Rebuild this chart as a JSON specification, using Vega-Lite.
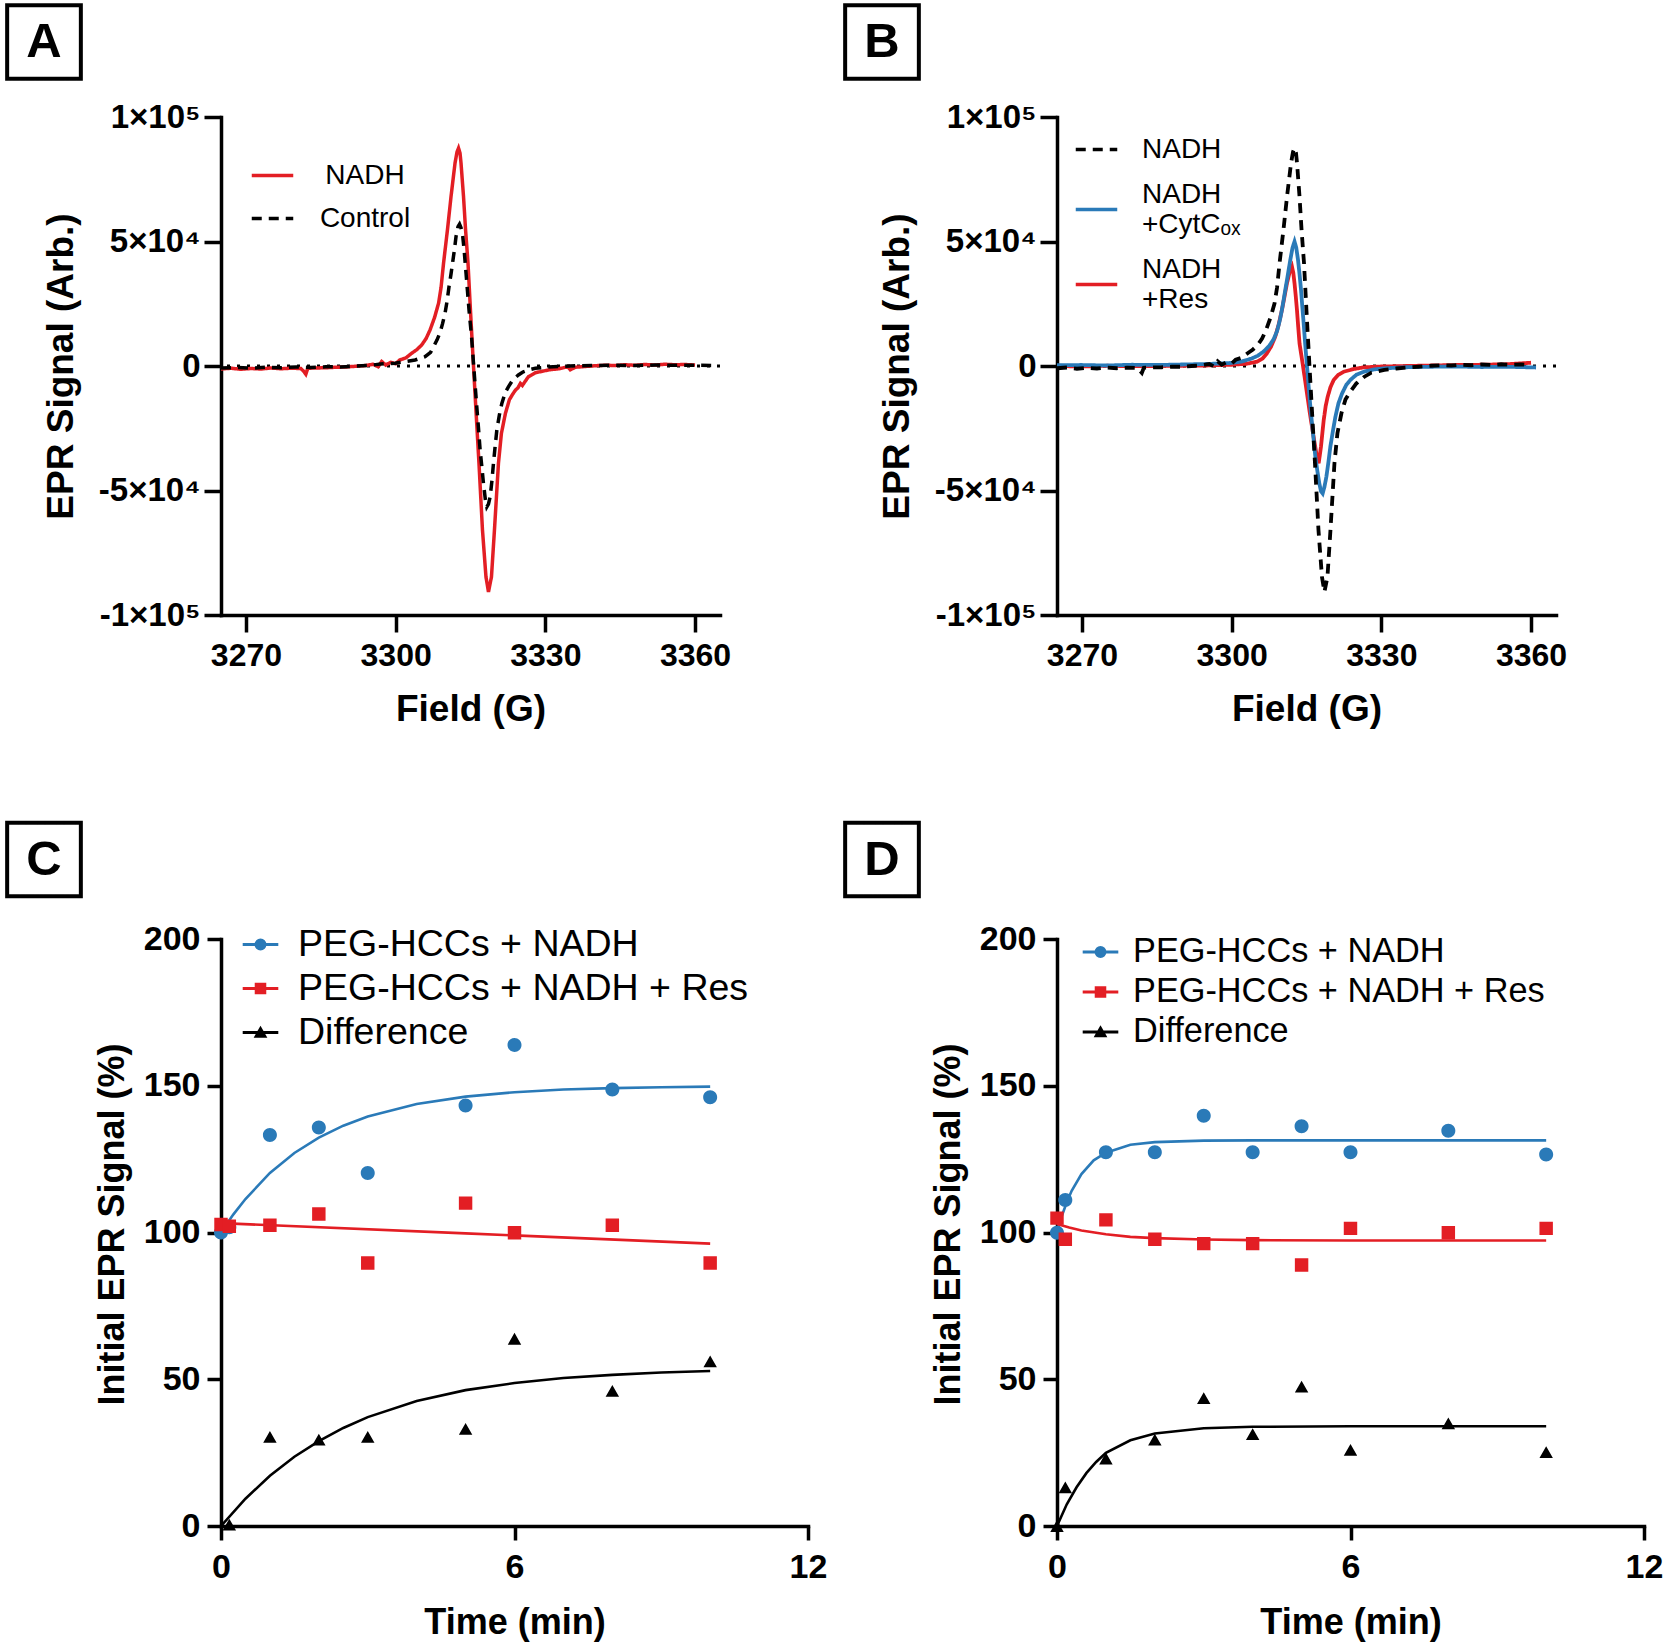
{
  "$schema": "https://vega.github.io/schema/vega-lite/v6.json",
  "background": "white",
  "padding": {"left": 5, "top": 3, "right": 5, "bottom": 5},
  "columns": 2,
  "bounds": "flush",
  "align": "each",
  "spacing": {"row": 324, "column": 249},
  "resolve": {"scale": {"color": "independent", "strokeDash": "independent", "shape": "independent", "stroke": "independent", "opacity": "independent"}},
  "config": {
    "view": {"stroke": null},
    "font": "Liberation Sans",
    "axis": {"domainColor": "black", "tickColor": "black", "labelColor": "black", "titleColor": "black", "grid": false, "labelFont": "Liberation Sans", "titleFont": "Liberation Sans", "labelFontWeight": "bold", "titleFontWeight": "bold", "domainWidth": 3.5, "tickWidth": 3.5, "domainCap": "square", "labelFlush": false, "labelOverlap": false},
    "legend": {"labelColor": "black", "labelFont": "Liberation Sans", "labelLimit": 600}
  },
  "datasets": {
    "epr_a": [
      {"s":"NADH","x":3265,"y":-1200},{"s":"NADH","x":3267,"y":-900},{"s":"NADH","x":3269,"y":-1300},{"s":"NADH","x":3271,"y":-1000},{"s":"NADH","x":3273,"y":-1200},{"s":"NADH","x":3275,"y":-800},{"s":"NADH","x":3277,"y":-1100},{"s":"NADH","x":3279,"y":-900},{"s":"NADH","x":3281,"y":-1000},{"s":"NADH","x":3281.6,"y":-2200},{"s":"NADH","x":3282,"y":-3300},{"s":"NADH","x":3282.4,"y":-900},{"s":"NADH","x":3284,"y":-800},{"s":"NADH","x":3286,"y":-700},{"s":"NADH","x":3288,"y":-500},{"s":"NADH","x":3290,"y":-400},{"s":"NADH","x":3292,"y":-100},{"s":"NADH","x":3294,"y":200},{"s":"NADH","x":3295.5,"y":700},{"s":"NADH","x":3296.5,"y":-300},{"s":"NADH","x":3297.2,"y":1800},{"s":"NADH","x":3298,"y":400},{"s":"NADH","x":3299,"y":1500},{"s":"NADH","x":3300,"y":900},{"s":"NADH","x":3300.8,"y":2400},{"s":"NADH","x":3302,"y":3200},{"s":"NADH","x":3303.2,"y":5100},{"s":"NADH","x":3304.2,"y":6500},{"s":"NADH","x":3305.2,"y":8400},{"s":"NADH","x":3306.1,"y":11000},{"s":"NADH","x":3306.9,"y":14500},{"s":"NADH","x":3307.8,"y":19500},{"s":"NADH","x":3308.6,"y":25200},{"s":"NADH","x":3309.1,"y":31500},{"s":"NADH","x":3309.6,"y":41300},{"s":"NADH","x":3310.4,"y":55000},{"s":"NADH","x":3311.1,"y":68100},{"s":"NADH","x":3311.9,"y":81500},{"s":"NADH","x":3312.3,"y":86000},{"s":"NADH","x":3312.6,"y":87500},{"s":"NADH","x":3312.9,"y":85500},{"s":"NADH","x":3313.1,"y":81500},{"s":"NADH","x":3313.6,"y":68100},{"s":"NADH","x":3314.0,"y":55000},{"s":"NADH","x":3314.5,"y":41300},{"s":"NADH","x":3315.0,"y":22000},{"s":"NADH","x":3315.6,"y":0},{"s":"NADH","x":3316.1,"y":-18000},{"s":"NADH","x":3316.7,"y":-39100},{"s":"NADH","x":3317.4,"y":-65900},{"s":"NADH","x":3318.1,"y":-84700},{"s":"NADH","x":3318.6,"y":-90700},{"s":"NADH","x":3319.2,"y":-84700},{"s":"NADH","x":3319.8,"y":-65900},{"s":"NADH","x":3320.6,"y":-39100},{"s":"NADH","x":3321.2,"y":-27000},{"s":"NADH","x":3322.0,"y":-19000},{"s":"NADH","x":3322.8,"y":-13500},{"s":"NADH","x":3323.4,"y":-11500},{"s":"NADH","x":3324.0,"y":-9700},{"s":"NADH","x":3324.5,"y":-8800},{"s":"NADH","x":3325.0,"y":-7000},{"s":"NADH","x":3325.4,"y":-7800},{"s":"NADH","x":3326.6,"y":-4300},{"s":"NADH","x":3328,"y":-2700},{"s":"NADH","x":3330.6,"y":-1600},{"s":"NADH","x":3333,"y":-1000},{"s":"NADH","x":3334.5,"y":-300},{"s":"NADH","x":3335,"y":-1500},{"s":"NADH","x":3336,"y":-500},{"s":"NADH","x":3338,"y":-200},{"s":"NADH","x":3340,"y":100},{"s":"NADH","x":3342,"y":300},{"s":"NADH","x":3344,"y":200},{"s":"NADH","x":3346,"y":500},{"s":"NADH","x":3348,"y":300},{"s":"NADH","x":3350,"y":600},{"s":"NADH","x":3352,"y":400},{"s":"NADH","x":3354,"y":700},{"s":"NADH","x":3356,"y":500},{"s":"NADH","x":3358,"y":600},{"s":"NADH","x":3360,"y":400},
      {"s":"Control","x":3265,"y":-800},{"s":"Control","x":3268,"y":-600},{"s":"Control","x":3271,"y":-900},{"s":"Control","x":3274,"y":-500},{"s":"Control","x":3277,"y":-700},{"s":"Control","x":3280,"y":-400},{"s":"Control","x":3283,"y":-600},{"s":"Control","x":3286,"y":-300},{"s":"Control","x":3289,"y":-400},{"s":"Control","x":3292,"y":0},{"s":"Control","x":3295,"y":300},{"s":"Control","x":3297,"y":800},{"s":"Control","x":3299.9,"y":1100},{"s":"Control","x":3302,"y":1800},{"s":"Control","x":3303.9,"y":2400},{"s":"Control","x":3305.9,"y":3750},{"s":"Control","x":3307,"y":5500},{"s":"Control","x":3307.6,"y":7800},{"s":"Control","x":3308.3,"y":10500},{"s":"Control","x":3308.9,"y":13400},{"s":"Control","x":3309.4,"y":17000},{"s":"Control","x":3309.9,"y":21200},{"s":"Control","x":3310.3,"y":26000},{"s":"Control","x":3310.7,"y":31900},{"s":"Control","x":3311.1,"y":37000},{"s":"Control","x":3311.4,"y":41300},{"s":"Control","x":3311.8,"y":47000},{"s":"Control","x":3312.1,"y":52000},{"s":"Control","x":3312.5,"y":56000},{"s":"Control","x":3312.8,"y":57000},{"s":"Control","x":3313.1,"y":55500},{"s":"Control","x":3313.45,"y":52000},{"s":"Control","x":3313.75,"y":46000},{"s":"Control","x":3314.05,"y":38600},{"s":"Control","x":3314.4,"y":30000},{"s":"Control","x":3314.7,"y":22500},{"s":"Control","x":3315.2,"y":12000},{"s":"Control","x":3315.6,"y":1100},{"s":"Control","x":3315.9,"y":-7000},{"s":"Control","x":3316.26,"y":-16400},{"s":"Control","x":3316.6,"y":-25000},{"s":"Control","x":3316.93,"y":-33800},{"s":"Control","x":3317.3,"y":-41000},{"s":"Control","x":3317.6,"y":-47200},{"s":"Control","x":3318.0,"y":-54000},{"s":"Control","x":3318.27,"y":-56600},{"s":"Control","x":3318.6,"y":-55500},{"s":"Control","x":3318.94,"y":-52500},{"s":"Control","x":3319.3,"y":-46000},{"s":"Control","x":3319.6,"y":-39100},{"s":"Control","x":3319.95,"y":-32000},{"s":"Control","x":3320.28,"y":-25700},{"s":"Control","x":3320.8,"y":-19500},{"s":"Control","x":3321.28,"y":-15000},{"s":"Control","x":3322,"y":-10500},{"s":"Control","x":3322.62,"y":-8300},{"s":"Control","x":3323.5,"y":-5500},{"s":"Control","x":3324.6,"y":-3600},{"s":"Control","x":3325.5,"y":-2400},{"s":"Control","x":3326.6,"y":-1600},{"s":"Control","x":3328,"y":-900},{"s":"Control","x":3330,"y":-500},{"s":"Control","x":3333,"y":-200},{"s":"Control","x":3336,"y":100},{"s":"Control","x":3340,"y":200},{"s":"Control","x":3344,"y":300},{"s":"Control","x":3348,"y":200},{"s":"Control","x":3352,"y":400},{"s":"Control","x":3356,"y":300},{"s":"Control","x":3360,"y":300},{"s":"Control","x":3364,"y":200}
    ],
    "epr_b": [
      {"s":"NADH+Res","x":3265,"y":0},{"s":"NADH+Res","x":3270,"y":-200},{"s":"NADH+Res","x":3275,"y":100},{"s":"NADH+Res","x":3280,"y":-100},{"s":"NADH+Res","x":3285,"y":0},{"s":"NADH+Res","x":3290,"y":100},{"s":"NADH+Res","x":3295,"y":200},{"s":"NADH+Res","x":3300,"y":500},{"s":"NADH+Res","x":3303,"y":900},{"s":"NADH+Res","x":3305.06,"y":1700},{"s":"NADH+Res","x":3306.2,"y":3000},{"s":"NADH+Res","x":3307.07,"y":5100},{"s":"NADH+Res","x":3307.9,"y":7800},{"s":"NADH+Res","x":3308.74,"y":11800},{"s":"NADH+Res","x":3309.4,"y":16500},{"s":"NADH+Res","x":3310.08,"y":22500},{"s":"NADH+Res","x":3310.6,"y":28000},{"s":"NADH+Res","x":3311.08,"y":33200},{"s":"NADH+Res","x":3311.6,"y":37500},{"s":"NADH+Res","x":3312.09,"y":39900},{"s":"NADH+Res","x":3312.35,"y":37500},{"s":"NADH+Res","x":3312.6,"y":33200},{"s":"NADH+Res","x":3312.85,"y":28000},{"s":"NADH+Res","x":3313.09,"y":22500},{"s":"NADH+Res","x":3313.35,"y":15500},{"s":"NADH+Res","x":3313.6,"y":9100},{"s":"NADH+Res","x":3314.3,"y":0},{"s":"NADH+Res","x":3314.7,"y":-5500},{"s":"NADH+Res","x":3315.1,"y":-11000},{"s":"NADH+Res","x":3315.6,"y":-18000},{"s":"NADH+Res","x":3316.1,"y":-24400},{"s":"NADH+Res","x":3316.55,"y":-30000},{"s":"NADH+Res","x":3316.97,"y":-35100},{"s":"NADH+Res","x":3317.44,"y":-39100},{"s":"NADH+Res","x":3317.9,"y":-32400},{"s":"NADH+Res","x":3318.45,"y":-21700},{"s":"NADH+Res","x":3318.85,"y":-16000},{"s":"NADH+Res","x":3319.25,"y":-12300},{"s":"NADH+Res","x":3319.8,"y":-8500},{"s":"NADH+Res","x":3320.45,"y":-5600},{"s":"NADH+Res","x":3321.4,"y":-3500},{"s":"NADH+Res","x":3322.46,"y":-2300},{"s":"NADH+Res","x":3324.5,"y":-1200},{"s":"NADH+Res","x":3326.48,"y":-540},{"s":"NADH+Res","x":3330,"y":-200},{"s":"NADH+Res","x":3335,"y":0},{"s":"NADH+Res","x":3340,"y":200},{"s":"NADH+Res","x":3345,"y":400},{"s":"NADH+Res","x":3350,"y":500},{"s":"NADH+Res","x":3355,"y":700},{"s":"NADH+Res","x":3360,"y":1300},
      {"s":"NADH+CytCox","x":3265,"y":300},{"s":"NADH+CytCox","x":3270,"y":400},{"s":"NADH+CytCox","x":3275,"y":200},{"s":"NADH+CytCox","x":3280,"y":500},{"s":"NADH+CytCox","x":3285,"y":400},{"s":"NADH+CytCox","x":3290,"y":600},{"s":"NADH+CytCox","x":3295,"y":800},{"s":"NADH+CytCox","x":3299.7,"y":1200},{"s":"NADH+CytCox","x":3302,"y":1800},{"s":"NADH+CytCox","x":3304,"y":3000},{"s":"NADH+CytCox","x":3305.3,"y":4200},{"s":"NADH+CytCox","x":3306.4,"y":5800},{"s":"NADH+CytCox","x":3307.5,"y":8000},{"s":"NADH+CytCox","x":3308.4,"y":10700},{"s":"NADH+CytCox","x":3309.1,"y":14000},{"s":"NADH+CytCox","x":3309.7,"y":18700},{"s":"NADH+CytCox","x":3310.2,"y":24000},{"s":"NADH+CytCox","x":3310.75,"y":30600},{"s":"NADH+CytCox","x":3311.25,"y":36500},{"s":"NADH+CytCox","x":3311.75,"y":42600},{"s":"NADH+CytCox","x":3312.2,"y":47500},{"s":"NADH+CytCox","x":3312.6,"y":50000},{"s":"NADH+CytCox","x":3312.95,"y":47500},{"s":"NADH+CytCox","x":3313.3,"y":42600},{"s":"NADH+CytCox","x":3313.6,"y":37000},{"s":"NADH+CytCox","x":3313.9,"y":30600},{"s":"NADH+CytCox","x":3314.15,"y":24000},{"s":"NADH+CytCox","x":3314.43,"y":17200},{"s":"NADH+CytCox","x":3314.75,"y":8500},{"s":"NADH+CytCox","x":3315.1,"y":0},{"s":"NADH+CytCox","x":3315.5,"y":-10000},{"s":"NADH+CytCox","x":3315.9,"y":-19000},{"s":"NADH+CytCox","x":3316.35,"y":-28000},{"s":"NADH+CytCox","x":3316.77,"y":-36400},{"s":"NADH+CytCox","x":3317.2,"y":-42500},{"s":"NADH+CytCox","x":3317.57,"y":-47200},{"s":"NADH+CytCox","x":3317.9,"y":-50300},{"s":"NADH+CytCox","x":3318.24,"y":-51200},{"s":"NADH+CytCox","x":3318.6,"y":-48500},{"s":"NADH+CytCox","x":3318.98,"y":-44500},{"s":"NADH+CytCox","x":3319.4,"y":-38500},{"s":"NADH+CytCox","x":3319.78,"y":-32400},{"s":"NADH+CytCox","x":3320.3,"y":-26000},{"s":"NADH+CytCox","x":3320.79,"y":-20400},{"s":"NADH+CytCox","x":3321.4,"y":-15000},{"s":"NADH+CytCox","x":3322.13,"y":-11000},{"s":"NADH+CytCox","x":3323,"y":-7500},{"s":"NADH+CytCox","x":3323.8,"y":-5600},{"s":"NADH+CytCox","x":3325,"y":-3500},{"s":"NADH+CytCox","x":3326.48,"y":-2300},{"s":"NADH+CytCox","x":3328.5,"y":-1400},{"s":"NADH+CytCox","x":3330.5,"y":-940},{"s":"NADH+CytCox","x":3335,"y":-500},{"s":"NADH+CytCox","x":3340,"y":-300},{"s":"NADH+CytCox","x":3345,"y":-200},{"s":"NADH+CytCox","x":3350,"y":-400},{"s":"NADH+CytCox","x":3355,"y":-300},{"s":"NADH+CytCox","x":3361,"y":-600},
      {"s":"NADH","x":3265,"y":-900},{"s":"NADH","x":3267,"y":-600},{"s":"NADH","x":3269,"y":-1100},{"s":"NADH","x":3271,"y":-700},{"s":"NADH","x":3273,"y":-1000},{"s":"NADH","x":3275,"y":-600},{"s":"NADH","x":3277,"y":-900},{"s":"NADH","x":3279,"y":-700},{"s":"NADH","x":3281,"y":-800},{"s":"NADH","x":3281.6,"y":-1900},{"s":"NADH","x":3282,"y":-2800},{"s":"NADH","x":3282.4,"y":-700},{"s":"NADH","x":3284,"y":-600},{"s":"NADH","x":3286,"y":-500},{"s":"NADH","x":3288,"y":-300},{"s":"NADH","x":3290,"y":-300},{"s":"NADH","x":3292,"y":0},{"s":"NADH","x":3294,"y":300},{"s":"NADH","x":3295.5,"y":800},{"s":"NADH","x":3296.5,"y":-200},{"s":"NADH","x":3297.2,"y":1900},{"s":"NADH","x":3298,"y":500},{"s":"NADH","x":3299,"y":1600},{"s":"NADH","x":3300,"y":1000},{"s":"NADH","x":3300.8,"y":2500},{"s":"NADH","x":3302,"y":3300},{"s":"NADH","x":3303.2,"y":5100},{"s":"NADH","x":3304.2,"y":6500},{"s":"NADH","x":3305.2,"y":8400},{"s":"NADH","x":3306.1,"y":11000},{"s":"NADH","x":3306.9,"y":14500},{"s":"NADH","x":3307.8,"y":19500},{"s":"NADH","x":3308.6,"y":25200},{"s":"NADH","x":3309.1,"y":31500},{"s":"NADH","x":3309.6,"y":41300},{"s":"NADH","x":3310.4,"y":55000},{"s":"NADH","x":3311.1,"y":68100},{"s":"NADH","x":3311.9,"y":81500},{"s":"NADH","x":3312.3,"y":86000},{"s":"NADH","x":3312.6,"y":87500},{"s":"NADH","x":3312.9,"y":85500},{"s":"NADH","x":3313.1,"y":81500},{"s":"NADH","x":3313.6,"y":68100},{"s":"NADH","x":3314.0,"y":55000},{"s":"NADH","x":3314.5,"y":41300},{"s":"NADH","x":3315.0,"y":22000},{"s":"NADH","x":3315.6,"y":0},{"s":"NADH","x":3316.1,"y":-18000},{"s":"NADH","x":3316.7,"y":-39100},{"s":"NADH","x":3317.4,"y":-65900},{"s":"NADH","x":3318.1,"y":-84700},{"s":"NADH","x":3318.6,"y":-90700},{"s":"NADH","x":3319.2,"y":-84700},{"s":"NADH","x":3319.8,"y":-65900},{"s":"NADH","x":3320.6,"y":-39100},{"s":"NADH","x":3321.2,"y":-27000},{"s":"NADH","x":3322.0,"y":-19000},{"s":"NADH","x":3322.8,"y":-13500},{"s":"NADH","x":3323.4,"y":-11500},{"s":"NADH","x":3324.0,"y":-9700},{"s":"NADH","x":3325.0,"y":-7000},{"s":"NADH","x":3326.6,"y":-4300},{"s":"NADH","x":3328,"y":-2700},{"s":"NADH","x":3330.6,"y":-1600},{"s":"NADH","x":3333,"y":-1000},{"s":"NADH","x":3336,"y":-500},{"s":"NADH","x":3338,"y":-200},{"s":"NADH","x":3340,"y":100},{"s":"NADH","x":3342,"y":300},{"s":"NADH","x":3344,"y":200},{"s":"NADH","x":3346,"y":500},{"s":"NADH","x":3348,"y":300},{"s":"NADH","x":3350,"y":600},{"s":"NADH","x":3352,"y":400},{"s":"NADH","x":3354,"y":700},{"s":"NADH","x":3356,"y":500},{"s":"NADH","x":3358,"y":600},{"s":"NADH","x":3360,"y":400}
    ],
    "pts_c": [
      {"s":"PEG-HCCs + NADH","x":0,"y":100},{"s":"PEG-HCCs + NADH","x":0.17,"y":101.8},{"s":"PEG-HCCs + NADH","x":1,"y":133.2},{"s":"PEG-HCCs + NADH","x":2,"y":135.8},{"s":"PEG-HCCs + NADH","x":3,"y":120.3},{"s":"PEG-HCCs + NADH","x":5,"y":143.3},{"s":"PEG-HCCs + NADH","x":6,"y":163.9},{"s":"PEG-HCCs + NADH","x":8,"y":148.7},{"s":"PEG-HCCs + NADH","x":10,"y":146.1},
      {"s":"PEG-HCCs + NADH + Res","x":0,"y":102.7},{"s":"PEG-HCCs + NADH + Res","x":0.17,"y":102.1},{"s":"PEG-HCCs + NADH + Res","x":1,"y":102.5},{"s":"PEG-HCCs + NADH + Res","x":2,"y":106.3},{"s":"PEG-HCCs + NADH + Res","x":3,"y":89.6},{"s":"PEG-HCCs + NADH + Res","x":5,"y":110},{"s":"PEG-HCCs + NADH + Res","x":6,"y":99.9},{"s":"PEG-HCCs + NADH + Res","x":8,"y":102.5},{"s":"PEG-HCCs + NADH + Res","x":10,"y":89.6},
      {"s":"Difference","x":0.17,"y":0.5},{"s":"Difference","x":1,"y":30.4},{"s":"Difference","x":2,"y":29.4},{"s":"Difference","x":3,"y":30.4},{"s":"Difference","x":5,"y":33.1},{"s":"Difference","x":6,"y":63.8},{"s":"Difference","x":8,"y":46},{"s":"Difference","x":10,"y":56.1}
    ],
    "fit_c": [
      {"s":"PEG-HCCs + NADH","x":0,"y":100},{"s":"PEG-HCCs + NADH","x":0.25,"y":106.1},{"s":"PEG-HCCs + NADH","x":0.5,"y":111.4},{"s":"PEG-HCCs + NADH","x":1,"y":120.3},{"s":"PEG-HCCs + NADH","x":1.5,"y":127.1},{"s":"PEG-HCCs + NADH","x":2,"y":132.3},{"s":"PEG-HCCs + NADH","x":2.5,"y":136.4},{"s":"PEG-HCCs + NADH","x":3,"y":139.5},{"s":"PEG-HCCs + NADH","x":4,"y":143.8},{"s":"PEG-HCCs + NADH","x":5,"y":146.3},{"s":"PEG-HCCs + NADH","x":6,"y":147.8},{"s":"PEG-HCCs + NADH","x":7,"y":148.7},{"s":"PEG-HCCs + NADH","x":8,"y":149.2},{"s":"PEG-HCCs + NADH","x":9,"y":149.5},{"s":"PEG-HCCs + NADH","x":10,"y":149.7},
      {"s":"PEG-HCCs + NADH + Res","x":0,"y":103.2},{"s":"PEG-HCCs + NADH + Res","x":5,"y":99.7},{"s":"PEG-HCCs + NADH + Res","x":10,"y":96.2},
      {"s":"Difference","x":0,"y":0},{"s":"Difference","x":0.5,"y":9.3},{"s":"Difference","x":1,"y":17.1},{"s":"Difference","x":1.5,"y":23.6},{"s":"Difference","x":2,"y":28.9},{"s":"Difference","x":2.5,"y":33.4},{"s":"Difference","x":3,"y":37.1},{"s":"Difference","x":4,"y":42.6},{"s":"Difference","x":5,"y":46.3},{"s":"Difference","x":6,"y":48.7},{"s":"Difference","x":7,"y":50.4},{"s":"Difference","x":8,"y":51.5},{"s":"Difference","x":9,"y":52.3},{"s":"Difference","x":10,"y":52.8}
    ],
    "pts_d": [
      {"s":"PEG-HCCs + NADH","x":0,"y":99.9},{"s":"PEG-HCCs + NADH","x":0.17,"y":111.1},{"s":"PEG-HCCs + NADH","x":1,"y":127.3},{"s":"PEG-HCCs + NADH","x":2,"y":127.3},{"s":"PEG-HCCs + NADH","x":3,"y":139.8},{"s":"PEG-HCCs + NADH","x":4,"y":127.3},{"s":"PEG-HCCs + NADH","x":5,"y":136.2},{"s":"PEG-HCCs + NADH","x":6,"y":127.3},{"s":"PEG-HCCs + NADH","x":8,"y":134.7},{"s":"PEG-HCCs + NADH","x":10,"y":126.6},
      {"s":"PEG-HCCs + NADH + Res","x":0,"y":104.9},{"s":"PEG-HCCs + NADH + Res","x":0.17,"y":97.7},{"s":"PEG-HCCs + NADH + Res","x":1,"y":104.3},{"s":"PEG-HCCs + NADH + Res","x":2,"y":97.7},{"s":"PEG-HCCs + NADH + Res","x":3,"y":96.2},{"s":"PEG-HCCs + NADH + Res","x":4,"y":96.2},{"s":"PEG-HCCs + NADH + Res","x":5,"y":88.9},{"s":"PEG-HCCs + NADH + Res","x":6,"y":101.4},{"s":"PEG-HCCs + NADH + Res","x":8,"y":99.9},{"s":"PEG-HCCs + NADH + Res","x":10,"y":101.4},
      {"s":"Difference","x":0,"y":0},{"s":"Difference","x":0.17,"y":13.2},{"s":"Difference","x":1,"y":23},{"s":"Difference","x":2,"y":29.4},{"s":"Difference","x":3,"y":43.6},{"s":"Difference","x":4,"y":31.3},{"s":"Difference","x":5,"y":47.5},{"s":"Difference","x":6,"y":25.9},{"s":"Difference","x":8,"y":35},{"s":"Difference","x":10,"y":25.2}
    ],
    "fit_d": [
      {"s":"PEG-HCCs + NADH","x":0,"y":100},{"s":"PEG-HCCs + NADH","x":0.1,"y":105.7},{"s":"PEG-HCCs + NADH","x":0.2,"y":110.3},{"s":"PEG-HCCs + NADH","x":0.3,"y":114.2},{"s":"PEG-HCCs + NADH","x":0.5,"y":119.9},{"s":"PEG-HCCs + NADH","x":0.75,"y":124.6},{"s":"PEG-HCCs + NADH","x":1,"y":127.2},{"s":"PEG-HCCs + NADH","x":1.5,"y":129.9},{"s":"PEG-HCCs + NADH","x":2,"y":130.8},{"s":"PEG-HCCs + NADH","x":3,"y":131.3},{"s":"PEG-HCCs + NADH","x":4,"y":131.4},{"s":"PEG-HCCs + NADH","x":6,"y":131.4},{"s":"PEG-HCCs + NADH","x":8,"y":131.4},{"s":"PEG-HCCs + NADH","x":10,"y":131.4},
      {"s":"PEG-HCCs + NADH + Res","x":0,"y":102.9},{"s":"PEG-HCCs + NADH + Res","x":0.25,"y":101.7},{"s":"PEG-HCCs + NADH + Res","x":0.5,"y":100.7},{"s":"PEG-HCCs + NADH + Res","x":1,"y":99.4},{"s":"PEG-HCCs + NADH + Res","x":1.5,"y":98.5},{"s":"PEG-HCCs + NADH + Res","x":2,"y":98.1},{"s":"PEG-HCCs + NADH + Res","x":3,"y":97.6},{"s":"PEG-HCCs + NADH + Res","x":4,"y":97.4},{"s":"PEG-HCCs + NADH + Res","x":6,"y":97.3},{"s":"PEG-HCCs + NADH + Res","x":10,"y":97.3},
      {"s":"Difference","x":0,"y":0},{"s":"Difference","x":0.2,"y":7.4},{"s":"Difference","x":0.4,"y":13.2},{"s":"Difference","x":0.6,"y":18},{"s":"Difference","x":0.8,"y":21.8},{"s":"Difference","x":1,"y":24.9},{"s":"Difference","x":1.5,"y":29.2},{"s":"Difference","x":2,"y":31.5},{"s":"Difference","x":3,"y":33.3},{"s":"Difference","x":4,"y":33.8},{"s":"Difference","x":6,"y":34},{"s":"Difference","x":10,"y":34}
    ]
  },
  "concat": [
    {
      "width": 499, "height": 498,
      "layer": [
        {
          "data": {"values": [{}]},
          "mark": {"type": "rule", "strokeWidth": 3, "color": "black", "strokeDash": [3, 7]},
          "encoding": {
            "y": {"datum": 0, "type": "quantitative"},
            "opacity": {"datum": "A", "type": "nominal", "scale": {"range": [1, 1]},
              "legend": {"orient": "none", "legendX": -216, "legendY": -114, "title": null, "padding": 0, "symbolType": "square", "symbolSize": 5432, "symbolStrokeWidth": 4, "symbolStrokeColor": "black", "symbolFillColor": "transparent", "symbolDash": [1, 0], "labelFontSize": 49, "labelFontWeight": "bold", "labelAlign": "center", "labelBaseline": "middle", "labelOffset": -39}}
          }
        },
        {
          "data": {"name": "epr_a"},
          "mark": {"type": "line", "strokeWidth": 3.5},
          "encoding": {
            "x": {"field": "x", "type": "quantitative", "scale": {"domain": [3265, 3365], "nice": false, "zero": false},
              "axis": {"values": [3270, 3300, 3330, 3360], "format": "d", "title": "Field (G)", "labelFontSize": 32, "titleFontSize": 37, "tickSize": 17, "labelPadding": 8, "titlePadding": 20}},
            "y": {"field": "y", "type": "quantitative", "scale": {"domain": [-100000, 100000], "nice": false, "zero": false},
              "axis": {"values": [-100000, -50000, 0, 50000, 100000], "labelExpr": "datum.value == 100000 ? '1×10⁵' : datum.value == 50000 ? '5×10⁴' : datum.value == 0 ? '0' : datum.value == -50000 ? '-5×10⁴' : '-1×10⁵'", "title": "EPR Signal (Arb.)", "labelFontSize": 33, "titleFontSize": 37, "tickSize": 17, "labelPadding": 4, "titlePadding": 18}},
            "color": {"field": "s", "type": "nominal", "scale": {"domain": ["NADH", "Control"], "range": ["#e31e24", "#000000"]},
              "legend": {"orient": "none", "legendX": 29, "legendY": 36, "title": null, "padding": 0, "symbolType": "stroke", "symbolSize": 1722, "symbolStrokeWidth": 3.5, "labelFontSize": 28, "labelAlign": "center", "labelOffset": 70, "rowPadding": 6}},
            "strokeDash": {"field": "s", "type": "nominal", "scale": {"domain": ["NADH", "Control"], "range": [[1, 0], [10, 7]]},
              "legend": {"orient": "none", "legendX": 29, "legendY": 36, "title": null, "padding": 0, "symbolType": "stroke", "symbolSize": 1722, "symbolStrokeWidth": 3.5, "labelFontSize": 28, "labelAlign": "center", "labelOffset": 70, "rowPadding": 6}}
          }
        }
      ]
    },
    {
      "width": 499, "height": 498,
      "layer": [
        {
          "data": {"values": [{}]},
          "mark": {"type": "rule", "strokeWidth": 3, "color": "black", "strokeDash": [3, 7]},
          "encoding": {
            "y": {"datum": 0, "type": "quantitative"},
            "opacity": {"datum": "B", "type": "nominal", "scale": {"range": [1, 1]},
              "legend": {"orient": "none", "legendX": -214, "legendY": -114, "title": null, "padding": 0, "symbolType": "square", "symbolSize": 5432, "symbolStrokeWidth": 4, "symbolStrokeColor": "black", "symbolFillColor": "transparent", "symbolDash": [1, 0], "labelFontSize": 49, "labelFontWeight": "bold", "labelAlign": "center", "labelBaseline": "middle", "labelOffset": -39}}
          }
        },
        {
          "data": {"name": "epr_b"},
          "mark": {"type": "line", "strokeWidth": 3.8},
          "encoding": {
            "x": {"field": "x", "type": "quantitative", "scale": {"domain": [3265, 3365], "nice": false, "zero": false},
              "axis": {"values": [3270, 3300, 3330, 3360], "format": "d", "title": "Field (G)", "labelFontSize": 32, "titleFontSize": 37, "tickSize": 17, "labelPadding": 8, "titlePadding": 20}},
            "y": {"field": "y", "type": "quantitative", "scale": {"domain": [-100000, 100000], "nice": false, "zero": false},
              "axis": {"values": [-100000, -50000, 0, 50000, 100000], "labelExpr": "datum.value == 100000 ? '1×10⁵' : datum.value == 50000 ? '5×10⁴' : datum.value == 0 ? '0' : datum.value == -50000 ? '-5×10⁴' : '-1×10⁵'", "title": "EPR Signal (Arb.)", "labelFontSize": 33, "titleFontSize": 37, "tickSize": 17, "labelPadding": 4, "titlePadding": 18}},
            "color": {"field": "s", "type": "nominal", "scale": {"domain": ["NADH", "NADH+CytCox", "NADH+Res"], "range": ["#000000", "#2a7ab8", "#e31e24"]},
              "legend": {"orient": "none", "legendX": 17, "legendY": 10, "title": null, "padding": 0, "symbolType": "stroke", "symbolSize": 1722, "symbolStrokeWidth": 3.5, "labelFontSize": 28, "labelOffset": 23, "rowPadding": 16,
                "labelBaseline": {"expr": "datum.value == 'NADH' ? 'middle' : 'line-bottom'"},
                "labelExpr": "datum.value == 'NADH' ? 'NADH' : datum.value == 'NADH+CytCox' ? ['NADH', '+CytCₒₓ'] : ['NADH', '+Res']"}},
            "strokeDash": {"field": "s", "type": "nominal", "scale": {"domain": ["NADH", "NADH+CytCox", "NADH+Res"], "range": [[10, 7], [1, 0], [1, 0]]},
              "legend": {"orient": "none", "legendX": 17, "legendY": 10, "title": null, "padding": 0, "symbolType": "stroke", "symbolSize": 1722, "symbolStrokeWidth": 3.5, "labelFontSize": 28, "labelOffset": 23, "rowPadding": 16,
                "labelBaseline": {"expr": "datum.value == 'NADH' ? 'middle' : 'line-bottom'"},
                "labelExpr": "datum.value == 'NADH' ? 'NADH' : datum.value == 'NADH+CytCox' ? ['NADH', '+CytCₒₓ'] : ['NADH', '+Res']"}}
          }
        }
      ]
    },
    {
      "width": 587, "height": 587,
      "layer": [
        {
          "data": {"name": "fit_c"},
          "mark": {"type": "line", "strokeWidth": 2.6},
          "encoding": {
            "x": {"field": "x", "type": "quantitative", "scale": {"domain": [0, 12], "nice": false},
              "axis": {"values": [0, 6, 12], "title": "Time (min)", "labelFontSize": 34, "titleFontSize": 36, "tickSize": 14, "labelPadding": 10, "titlePadding": 21}},
            "y": {"field": "y", "type": "quantitative", "scale": {"domain": [0, 200], "nice": false},
              "axis": {"values": [0, 50, 100, 150, 200], "title": "Initial EPR Signal (%)", "labelFontSize": 34, "titleFontSize": 36, "tickSize": 14, "labelPadding": 7, "titlePadding": 12, "titleY": 285}},
            "color": {"field": "s", "type": "nominal", "scale": {"domain": ["PEG-HCCs + NADH", "PEG-HCCs + NADH + Res", "Difference"], "range": ["#2a7ab8", "#e31e24", "#000000"]},
              "legend": {"orient": "none", "legendX": 20, "legendY": -14, "title": null, "padding": 0, "labelFontSize": 37.5, "labelOffset": 18, "rowPadding": 6, "symbolSize": 1267, "symbolStrokeWidth": 3, "symbolOpacity": 1}},
            "opacity": {"datum": "C", "type": "nominal", "scale": {"range": [1, 1]},
              "legend": {"orient": "none", "legendX": -216, "legendY": -118.5, "title": null, "padding": 0, "symbolType": "square", "symbolSize": 5432, "symbolStrokeWidth": 4, "symbolStrokeColor": "black", "symbolFillColor": "transparent", "symbolDash": [1, 0], "labelFontSize": 49, "labelFontWeight": "bold", "labelAlign": "center", "labelBaseline": "middle", "labelOffset": -39}}
          }
        },
        {
          "data": {"name": "pts_c"},
          "mark": {"type": "point", "filled": true, "size": 3136, "opacity": 1, "strokeWidth": 0},
          "encoding": {
            "x": {"field": "x", "type": "quantitative"},
            "y": {"field": "y", "type": "quantitative"},
            "color": {"field": "s", "type": "nominal",
              "legend": {"orient": "none", "legendX": 20, "legendY": -14, "title": null, "padding": 0, "labelFontSize": 37.5, "labelOffset": 18, "rowPadding": 6, "symbolSize": 1267, "symbolStrokeWidth": 3, "symbolOpacity": 1}},
            "stroke": {"field": "s", "type": "nominal", "scale": {"domain": ["PEG-HCCs + NADH", "PEG-HCCs + NADH + Res", "Difference"], "range": ["#2a7ab8", "#e31e24", "#000000"]},
              "legend": {"orient": "none", "legendX": 20, "legendY": -14, "title": null, "padding": 0, "labelFontSize": 37.5, "labelOffset": 18, "rowPadding": 6, "symbolSize": 1267, "symbolStrokeWidth": 3, "symbolOpacity": 1}},
            "shape": {"field": "s", "type": "nominal", "scale": {"domain": ["PEG-HCCs + NADH", "PEG-HCCs + NADH + Res", "Difference"], "range": ["M-1,0H1M0.25,0A0.25,0.25,0,1,1,-0.25,0A0.25,0.25,0,1,1,0.25,0Z", "M-1,0H1M-0.24,-0.24H0.24V0.24H-0.24Z", "M-1,0H1M0,-0.21L0.24,0.21H-0.24Z"]},
              "legend": {"orient": "none", "legendX": 20, "legendY": -14, "title": null, "padding": 0, "labelFontSize": 37.5, "labelOffset": 18, "rowPadding": 6, "symbolSize": 1267, "symbolStrokeWidth": 3, "symbolOpacity": 1}}
          }
        }
      ]
    },
    {
      "width": 587, "height": 587,
      "layer": [
        {
          "data": {"name": "fit_d"},
          "mark": {"type": "line", "strokeWidth": 2.6},
          "encoding": {
            "x": {"field": "x", "type": "quantitative", "scale": {"domain": [0, 12], "nice": false},
              "axis": {"values": [0, 6, 12], "title": "Time (min)", "labelFontSize": 34, "titleFontSize": 36, "tickSize": 14, "labelPadding": 10, "titlePadding": 21}},
            "y": {"field": "y", "type": "quantitative", "scale": {"domain": [0, 200], "nice": false},
              "axis": {"values": [0, 50, 100, 150, 200], "title": "Initial EPR Signal (%)", "labelFontSize": 34, "titleFontSize": 36, "tickSize": 14, "labelPadding": 7, "titlePadding": 12, "titleY": 285}},
            "color": {"field": "s", "type": "nominal", "scale": {"domain": ["PEG-HCCs + NADH", "PEG-HCCs + NADH + Res", "Difference"], "range": ["#2a7ab8", "#e31e24", "#000000"]},
              "legend": {"orient": "none", "legendX": 24, "legendY": -6.5, "title": null, "padding": 0, "labelFontSize": 34.3, "labelOffset": 13, "rowPadding": 3, "symbolSize": 1267, "symbolStrokeWidth": 3, "symbolOpacity": 1}},
            "opacity": {"datum": "D", "type": "nominal", "scale": {"range": [1, 1]},
              "legend": {"orient": "none", "legendX": -214, "legendY": -118.5, "title": null, "padding": 0, "symbolType": "square", "symbolSize": 5432, "symbolStrokeWidth": 4, "symbolStrokeColor": "black", "symbolFillColor": "transparent", "symbolDash": [1, 0], "labelFontSize": 49, "labelFontWeight": "bold", "labelAlign": "center", "labelBaseline": "middle", "labelOffset": -39}}
          }
        },
        {
          "data": {"name": "pts_d"},
          "mark": {"type": "point", "filled": true, "size": 3136, "opacity": 1, "strokeWidth": 0},
          "encoding": {
            "x": {"field": "x", "type": "quantitative"},
            "y": {"field": "y", "type": "quantitative"},
            "color": {"field": "s", "type": "nominal",
              "legend": {"orient": "none", "legendX": 24, "legendY": -6.5, "title": null, "padding": 0, "labelFontSize": 34.3, "labelOffset": 13, "rowPadding": 3, "symbolSize": 1267, "symbolStrokeWidth": 3, "symbolOpacity": 1}},
            "stroke": {"field": "s", "type": "nominal", "scale": {"domain": ["PEG-HCCs + NADH", "PEG-HCCs + NADH + Res", "Difference"], "range": ["#2a7ab8", "#e31e24", "#000000"]},
              "legend": {"orient": "none", "legendX": 24, "legendY": -6.5, "title": null, "padding": 0, "labelFontSize": 34.3, "labelOffset": 13, "rowPadding": 3, "symbolSize": 1267, "symbolStrokeWidth": 3, "symbolOpacity": 1}},
            "shape": {"field": "s", "type": "nominal", "scale": {"domain": ["PEG-HCCs + NADH", "PEG-HCCs + NADH + Res", "Difference"], "range": ["M-1,0H1M0.25,0A0.25,0.25,0,1,1,-0.25,0A0.25,0.25,0,1,1,0.25,0Z", "M-1,0H1M-0.24,-0.24H0.24V0.24H-0.24Z", "M-1,0H1M0,-0.21L0.24,0.21H-0.24Z"]},
              "legend": {"orient": "none", "legendX": 24, "legendY": -6.5, "title": null, "padding": 0, "labelFontSize": 34.3, "labelOffset": 13, "rowPadding": 3, "symbolSize": 1267, "symbolStrokeWidth": 3, "symbolOpacity": 1}}
          }
        }
      ]
    }
  ]
}
